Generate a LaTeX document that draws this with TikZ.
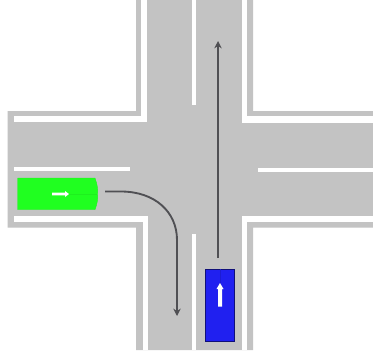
\documentclass[tikz,border=0pt]{standalone}
\usetikzlibrary{arrows.meta}

\begin{document}
\begin{tikzpicture}[x=0.75pt,y=-0.75pt,>={Stealth[length=5.5pt,width=5.5pt]}]
            \definecolor{road}{RGB}{195,195,195}
            \definecolor{carg}{RGB}{32,255,32}
            \definecolor{carb}{RGB}{32,32,240}
            \definecolor{path}{RGB}{80,80,84}
            \useasboundingbox (0,0) rectangle (373,350);
            \fill[white] (0,0) rectangle (373,350);
            % road surface
            \fill[road] (136,0) -- (253,0) -- (253,111) -- (373,111) -- (373,227.5) -- (253,227.5) -- (253,350)
                -- (136,350) -- (136,227.5) -- (7.5,227.5) -- (7.5,111) -- (136,111) -- cycle;
            % kerb lines
            \fill[white] (141,0) rectangle (147,121.7);
            \fill[white] (14,115.7) rectangle (147,121.7);
            \fill[white] (142.5,216) rectangle (147.5,350);
            \fill[white] (14,216) rectangle (147.5,221.7);
            \fill[white] (241.5,0) rectangle (247,123);
            \fill[white] (241.5,116) rectangle (373,123);
            \fill[white] (242,216) rectangle (247,350);
            \fill[white] (242,216) rectangle (373,221.7);
            % centre lines
            \foreach \xa/\ya/\xb/\yb in {14/167.3/130/171,258/168/373/171.7,192.3/0/196/105,192.3/234/196/350}{
                \fill[white] (\xa,\ya) rectangle (\xb,\yb);
            }
            % green car
            \filldraw[carg,draw=carg!95!black,line width=0.3pt] (17.7,178) -- (95,178)
                .. controls (97,184) and (98,188) .. (97.7,194)
                .. controls (98,200) and (97,204) .. (95,209.7) -- (17.7,209.7) -- cycle;
            \draw[carg!94!black,line width=0.3pt] (60,194) -- (97,194);
            \fill[white] (52,192.6) -- (65,192.6) -- (65,191) -- (69,194) -- (65,197) -- (65,195.4) -- (52,195.4) -- cycle;
            % blue car
            \filldraw[carb,draw=carb!50!black,line width=0.5pt] (205.7,269.3) rectangle (234.3,341.7);
            \draw[carb!88!black,line width=0.3pt] (220,269.3) -- (220,290);
            \fill[white] (218,306.7) -- (218,289) -- (216.5,289) -- (220,283) -- (223.5,289) -- (222,289) -- (222,306.7) -- cycle;
            % driving paths
            \coordinate (gstart) at (105,191.5);
            \coordinate (gend) at (177,316);
            \coordinate (bstart) at (218,258);
            \coordinate (bend) at (218,41);
            \draw[->,path,line width=1.4pt] (gstart) -- (121,191.5)
                .. controls (155,191.5) and (177,212) .. (177,240) -- (gend);
            \draw[->,path,line width=1.4pt] (bstart) -- (bend);
        \end{tikzpicture}
\end{document}
